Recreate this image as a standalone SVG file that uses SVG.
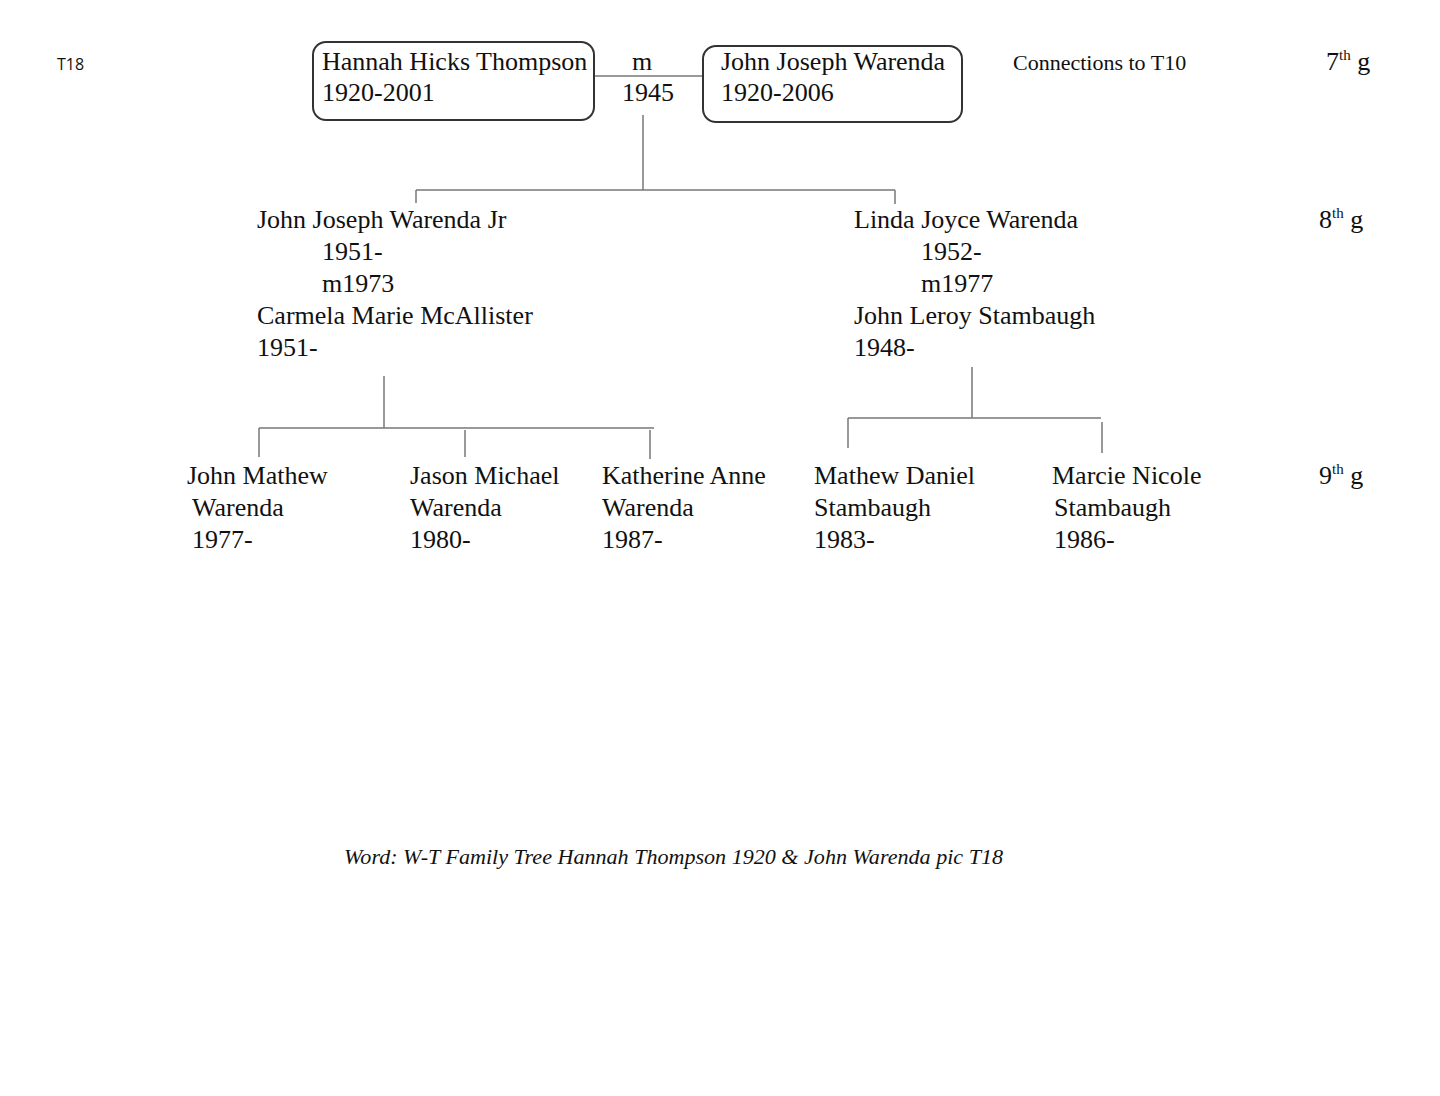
<svg xmlns="http://www.w3.org/2000/svg" width="1440" height="1096" viewBox="0 0 1440 1096">
<style>
  text { font-family: "Liberation Serif", "Times New Roman", serif; font-size: 26px; fill: #111; }
  .sans { font-family: "Open Sans", "Liberation Sans", Arial, sans-serif; font-size: 16px; }
  .small { font-size: 22px; }
  .cap { font-style: italic; font-size: 20px; }
  .sup { font-size: 15px; }
  .box { fill: none; stroke: #333; stroke-width: 2; }
  .line { stroke: #777; stroke-width: 1.5; fill: none; }
</style>
<rect width="1440" height="1096" fill="#fff"/>

<text class="sans" x="57" y="70">T18</text>

<g id="connectors">
  <line class="line" x1="594" y1="76" x2="703" y2="76"/>
  <line class="line" x1="643" y1="115" x2="643" y2="190"/>
  <line class="line" x1="416" y1="190" x2="895" y2="190"/>
  <line class="line" x1="416" y1="190" x2="416" y2="203"/>
  <line class="line" x1="895" y1="190" x2="895" y2="204"/>
  <line class="line" x1="384" y1="376" x2="384" y2="428"/>
  <line class="line" x1="259" y1="428" x2="654" y2="428"/>
  <line class="line" x1="259" y1="428" x2="259" y2="457"/>
  <line class="line" x1="465" y1="430" x2="465" y2="457"/>
  <line class="line" x1="650" y1="430" x2="650" y2="459"/>
  <line class="line" x1="972" y1="367" x2="972" y2="418"/>
  <line class="line" x1="848" y1="418" x2="1101" y2="418"/>
  <line class="line" x1="848" y1="418" x2="848" y2="448"/>
  <line class="line" x1="1102" y1="422" x2="1102" y2="453"/>
</g>

<g id="hannah">
  <rect class="box" x="313" y="42" width="281" height="78" rx="13"/>
  <text x="322" y="70">Hannah Hicks Thompson</text>
  <text x="322" y="101">1920-2001</text>
</g>
<g id="marriage">
  <text x="632" y="70">m</text>
  <text x="622" y="101">1945</text>
</g>
<g id="john">
  <rect class="box" x="703" y="46" width="259" height="76" rx="13"/>
  <text x="721" y="70">John Joseph Warenda</text>
  <text x="721" y="101">1920-2006</text>
</g>
<text class="small" x="1013" y="70">Connections to T10</text>
<text x="1326" y="70">7<tspan class="sup" dy="-10">th</tspan><tspan dy="10"> g</tspan></text>

<g id="jjw-jr">
  <text x="257" y="228">John Joseph Warenda Jr</text>
  <text x="322" y="260">1951-</text>
  <text x="322" y="292">m1973</text>
  <text x="257" y="324">Carmela Marie McAllister</text>
  <text x="257" y="356">1951-</text>
</g>
<g id="linda">
  <text x="854" y="228">Linda Joyce Warenda</text>
  <text x="921" y="260">1952-</text>
  <text x="921" y="292">m1977</text>
  <text x="854" y="324">John Leroy Stambaugh</text>
  <text x="854" y="356">1948-</text>
</g>
<text x="1319" y="228">8<tspan class="sup" dy="-10">th</tspan><tspan dy="10"> g</tspan></text>

<g id="john-mathew">
  <text x="187" y="484">John Mathew</text>
  <text x="192" y="516">Warenda</text>
  <text x="192" y="548">1977-</text>
</g>
<g id="jason">
  <text x="410" y="484">Jason Michael</text>
  <text x="410" y="516">Warenda</text>
  <text x="410" y="548">1980-</text>
</g>
<g id="katherine">
  <text x="602" y="484">Katherine Anne</text>
  <text x="602" y="516">Warenda</text>
  <text x="602" y="548">1987-</text>
</g>
<g id="mathew-daniel">
  <text x="814" y="484">Mathew Daniel</text>
  <text x="814" y="516">Stambaugh</text>
  <text x="814" y="548">1983-</text>
</g>
<g id="marcie">
  <text x="1052" y="484">Marcie Nicole</text>
  <text x="1054" y="516">Stambaugh</text>
  <text x="1054" y="548">1986-</text>
</g>
<text x="1319" y="484">9<tspan class="sup" dy="-10">th</tspan><tspan dy="10"> g</tspan></text>

<text class="cap" x="344" y="864" textLength="659" lengthAdjust="spacingAndGlyphs">Word: W-T Family Tree Hannah Thompson 1920 &amp; John Warenda pic T18</text>
</svg>
